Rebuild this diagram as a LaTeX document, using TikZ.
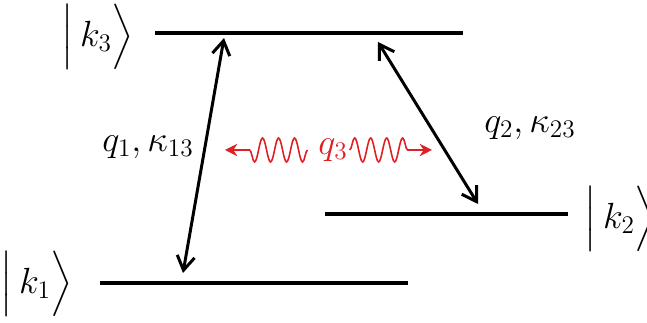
\documentclass[tikz,border=0pt]{standalone}
\usepackage{amsmath}
\usetikzlibrary{arrows.meta, decorations.pathmorphing}

\begin{document}
\begin{tikzpicture}[
  execute at begin picture={
    \definecolor{photonred}{RGB}{222,32,36}
  },
  x=0.02cm, y=-0.02cm,
  font=\fontsize{21}{25}\selectfont,
  level/.style={line width=2.3pt},
  trans/.style={
    {Straight Barb[length=8pt,width=10pt,line width=1.7pt]}-{Straight Barb[length=8pt,width=10pt,line width=1.7pt]},
    line width=1.7pt
  },
  photon/.style={
    photonred, line width=0.9pt,
    -{Stealth[length=7pt,width=7pt]},
    decorate,
    decoration={snake, amplitude=0.24cm, segment length=0.32cm, post length=0.36cm}
  },
  ket/.style={inner sep=0pt}
]
\useasboundingbox (0,0) rectangle (647,323);

% energy levels
\coordinate (k3l) at (155,33);  \coordinate (k3r) at (463,33);
\coordinate (k2l) at (325,214); \coordinate (k2r) at (568,214);
\coordinate (k1l) at (100,283); \coordinate (k1r) at (408,283);
\draw[level] (k3l) -- (k3r);
\draw[level] (k2l) -- (k2r);
\draw[level] (k1l) -- (k1r);

\node[ket] (ket3) at (98,37)  {$\Bigl|\,k_3\Bigr\rangle$};
\node[ket] (ket2) at (621,219) {$\Bigl|\,k_2\Bigr\rangle$};
\node[ket] (ket1) at (37,284) {$\Bigl|\,k_1\Bigr\rangle$};

% transitions
\coordinate (t13a) at (183,273); \coordinate (t13b) at (224,38);
\coordinate (t23a) at (378,42);  \coordinate (t23b) at (478,204);
\draw[trans] (t13a) -- (t13b);
\draw[trans] (t23a) -- (t23b);

\node (lab13) at (148,147) {$q_1,\kappa_{13}$};
\node (lab23) at (530,128) {$q_2,\kappa_{23}$};

% coupling photon
\node[photonred, inner sep=1pt] (q3) at (333,150) {$q_3$};
\coordinate (wl) at (225,150);
\coordinate (wr) at (432,150);
\draw[photon] ([xshift=-5pt]q3.west) -- (wl);
\draw[photon] (q3.east) -- (wr);

\end{tikzpicture}
\end{document}
